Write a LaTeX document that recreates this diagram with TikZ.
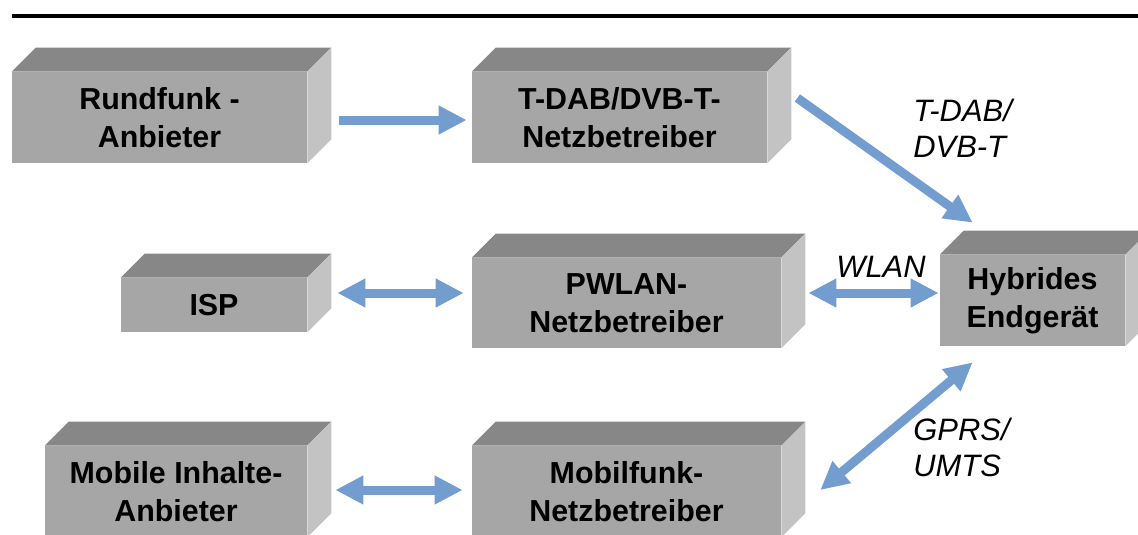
\documentclass[tikz,border=0pt]{standalone}
\usepackage{fontspec}
\setmainfont{Liberation Sans}
\usepackage{tikz}
\usetikzlibrary{arrows.meta,calc,positioning}
\definecolor{frontgray}{RGB}{166,166,166}
\definecolor{topgray}{RGB}{135,135,135}
\definecolor{sidegray}{RGB}{195,195,195}
\definecolor{linkblue}{RGB}{115,157,206}
\tikzset{%
	cube/.style   = {fill=frontgray, inner sep=0pt, align=center, font=\fontsize{17.3}{21.8}\selectfont\bfseries},
	link/.style   = {draw=linkblue, line width=0.18cm, -{Triangle[length=0.56cm,width=0.54cm]}},
	dlink/.style  = {link, {Triangle[length=0.56cm,width=0.54cm]}-{Triangle[length=0.56cm,width=0.54cm]}},
	medium/.style = {anchor=west, align=left, inner sep=0pt, font=\fontsize{17.6}{20.5}\selectfont\itshape},
}
\begin{document}
\begin{tikzpicture}[x=0.02cm,y=-0.02cm]
	\useasboundingbox (0,0) rectangle (1138,534);
	\draw[line width=0.1cm] (12,16) -- (1138,16);  % rule on top
	
	% front faces
	\node[cube, minimum width=5.9cm, minimum height=1.82cm] (rund) at (159.5,117.5) {Rundfunk -\\Anbieter};
	\node[cube, minimum width=5.9cm, minimum height=1.82cm] (tdab) at (619.5,117.5) {T-DAB/DVB-T-\\Netzbetreiber};
	\node[cube, minimum width=3.72cm, minimum height=1.08cm] (isp) at (214,305) {ISP};
	\node[cube, minimum width=6.18cm, minimum height=1.8cm] (pwlan) at (626.5,303) {PWLAN-\\Netzbetreiber};
	\node[cube, minimum width=3.7cm, minimum height=1.82cm] (hyb) at (1032.5,300.5) {Hybrides\\Endgerät};
	\node[cube, minimum width=5.24cm, minimum height=1.82cm] (mobinh) at (176,491.5) {Mobile Inhalte-\\Anbieter};
	\node[cube, minimum width=6.18cm, minimum height=1.82cm] (mobfunk) at (626.5,491.5) {Mobilfunk-\\Netzbetreiber};
	
	% top and side faces
	\foreach \n in {rund,tdab,isp,pwlan,hyb,mobinh,mobfunk}{
		\fill[topgray] (\n.north west) -- ++(24,-24) -- ($(\n.north east)+(24,-24)$) -- (\n.north east) -- cycle;
		\fill[sidegray] (\n.north east) -- ++(24,-24) -- ($(\n.south east)+(24,-24)$) -- (\n.south east) -- cycle;
	}
	
	\draw[link] ($(rund.east)+(32,2.5)$) -- ($(tdab.west)+(-5,2.5)$);
	\draw[link] ($(tdab.east)+(30,-19.5)$) -- ($(hyb.north west)+(33,-32)$);
	\draw[dlink] ($(isp.east)+(30,-12)$) -- ($(pwlan.west)+(-8,-10)$);
	\draw[dlink] ($(pwlan.east)+(27,-10)$) -- ($(hyb.west)+(-1,-7.5)$);
	\draw[dlink] ($(mobinh.east)+(28,-1.5)$) -- ($(mobfunk.west)+(-9,-1.5)$);
	\draw[dlink] ($(hyb.south west)+(33,16)$) -- ($(mobfunk.east)+(39,-1.5)$);
	
	\node[medium] (dvb) at (913,128) {T-DAB/\\DVB-T};
	\node[medium, anchor=center] (wlan) at (881,267) {WLAN};
	\node[medium] (gprs) at (913,447) {GPRS/\\UMTS};
\end{tikzpicture}
\end{document}
